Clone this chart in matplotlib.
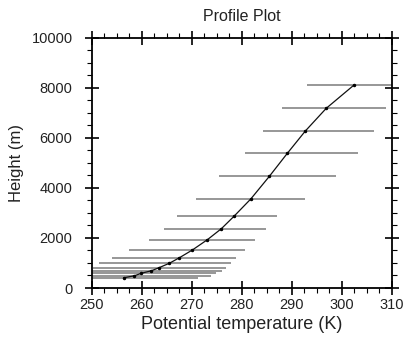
import matplotlib
matplotlib.use("Agg")
import matplotlib.pyplot as plt
from matplotlib.ticker import MultipleLocator

plt.rcParams['font.family'] = ['Liberation Sans', 'DejaVu Sans']

# Profile data: potential temperature (K) at each height (m)
theta = [256.4, 258.5, 259.9, 261.9, 263.4, 265.5, 267.5, 270.1, 273.1,
         275.9, 278.4, 281.8, 285.5, 289.1, 292.7, 296.9, 302.4]
height = [410, 490, 590, 690, 810, 990, 1210, 1520, 1930,
          2370, 2860, 3560, 4460, 5380, 6270, 7180, 8100]
# Horizontal range bars (min / max) at each height
range_lo = [248.0, 248.5, 249.0, 249.5, 250.2, 251.5, 254.0, 257.5, 261.4,
            264.4, 267.1, 270.8, 275.5, 280.6, 284.3, 288.1, 293.1]
range_hi = [271.2, 273.9, 274.9, 276.0, 276.9, 277.9, 278.9, 280.7, 282.7,
            284.9, 287.1, 292.6, 298.9, 303.2, 306.4, 308.9, 312.0]

xticks = [250, 260, 270, 280, 290, 300, 310]
yticks = [0, 2000, 4000, 6000, 8000, 10000]

fig = plt.figure(figsize=(4.06, 3.39), dpi=100)
ax = fig.add_axes([0.2266, 0.1504, 0.7382, 0.7384])

ax.hlines(height, range_lo, range_hi, colors='#7a7a7a', linewidth=1.1)
ax.plot(theta, height, color='#111111', linewidth=0.9, marker='o',
        markersize=1.5, markerfacecolor='black', markeredgecolor='black')

ax.set_xlim(250, 310)
ax.set_ylim(0, 10000)
ax.set_xticks(xticks)
ax.set_yticks(yticks)
ax.xaxis.set_minor_locator(MultipleLocator(2.5))
ax.yaxis.set_minor_locator(MultipleLocator(500))
ax.tick_params(which='major', direction='inout', length=10, width=1.2,
               top=True, right=True, labelsize=10.5, labelcolor='#222222')
ax.tick_params(axis='x', which='major', pad=2)
ax.tick_params(axis='y', which='major', pad=9)
ax.tick_params(which='minor', direction='out', length=3.5, width=0.8,
               top=True, right=True)
for s in ax.spines.values():
    s.set_linewidth(1.3)

ax.set_title('Profile Plot', fontsize=11.5, pad=12, color='#222222')
ax.set_xlabel('Potential temperature (K)', fontsize=13, labelpad=3,
              color='#222222')
ax.set_ylabel('Height (m)', fontsize=12, labelpad=5, color='#222222')

fig.savefig('out.png', dpi=100)
